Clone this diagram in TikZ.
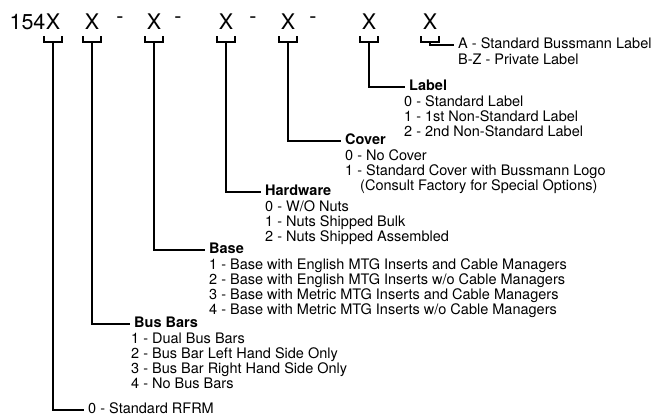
\documentclass[tikz,border=0pt]{standalone}
\usepackage{fontspec}
\setmainfont{TeX Gyre Heros}
\begin{document}
\begin{tikzpicture}[x=1pt,y=-1pt,
		digit/.style={inner sep=0pt, font=\fontsize{21.5}{22}\selectfont},
		head/.style={anchor=west, inner xsep=4pt, inner ysep=0pt, text height=10pt, text depth=3pt, font=\fontsize{14.5}{15}\selectfont\bfseries},
		entry/.style={head, font=\fontsize{14.5}{15}\selectfont},
		items/.style={anchor=north west, inner xsep=4pt, inner ysep=2pt, align=left, font=\fontsize{14.5}{15}\selectfont},
		lead/.style={line width=1.2pt}]
	\useasboundingbox (0,0) rectangle (654,418);

	% code positions and their brackets
	\foreach \x/\i in {53/1, 92/2, 154/3, 226/4, 288/5, 369/6, 430/7} {
		\node[digit] (d\i) at (\x,22) {X};
		\draw[lead] (\x-9,36) -- (\x-9,42) -- (\x+9,42) -- (\x+9,36);
		\coordinate (b\i) at (\x,42);
	}
	\node[digit, anchor=east] (pre) at (d1.west) {154};
	\foreach \x in {120, 178, 253, 313}
		\node[digit] (dash\x) at (\x,20) {-};

	% headings
	\node[entry] (optA) at (454,45) {A - Standard Bussmann Label};
	\node[items] (optBZ) at (optA.south west) {B-Z - Private Label};

	\node[head] (label) at (405,87) {Label};
	\node[items, xshift=-5pt] (labellist) at (label.south west) {0 - Standard Label\\
		1 - 1st Non-Standard Label\\
		2 - 2nd Non-Standard Label};

	\node[head] (cover) at (341,141) {Cover};
	\node[items] (coverlist) at (cover.south west) {0 - No Cover\\
		1 - Standard Cover with Bussmann Logo\\
		\hspace*{15pt}(Consult Factory for Special Options)};

	\node[head] (hardware) at (261,192) {Hardware};
	\node[items] (hardwarelist) at (hardware.south west) {0 - W/O Nuts\\
		1 - Nuts Shipped Bulk\\
		2 - Nuts Shipped Assembled};

	\node[head] (base) at (205,250) {Base};
	\node[items] (baselist) at (base.south west) {1 - Base with English MTG Inserts and Cable Managers\\
		2 - Base with English MTG Inserts w/o Cable Managers\\
		3 - Base with Metric MTG Inserts and Cable Managers\\
		4 - Base with Metric MTG Inserts w/o Cable Managers};

	\node[head] (busbars) at (130,324) {Bus Bars};
	\node[items, xshift=-3pt] (busbarlist) at (busbars.south west) {1 - Dual Bus Bars\\
		2 - Bus Bar Left Hand Side Only\\
		3 - Bus Bar Right Hand Side Only\\
		4 - No Bus Bars};

	\node[entry] (rfrm) at (84,410) {0 - Standard RFRM};

	% leaders
	\draw[lead] (b7) |- (optA.west);
	\draw[lead] (b6) |- (label.west);
	\draw[lead] (b5) |- (cover.west);
	\draw[lead] (b4) |- (hardware.west);
	\draw[lead] (b3) |- (base.west);
	\draw[lead] (b2) |- (busbars.west);
	\draw[lead] (b1) |- (rfrm.west);
\end{tikzpicture}
\end{document}
